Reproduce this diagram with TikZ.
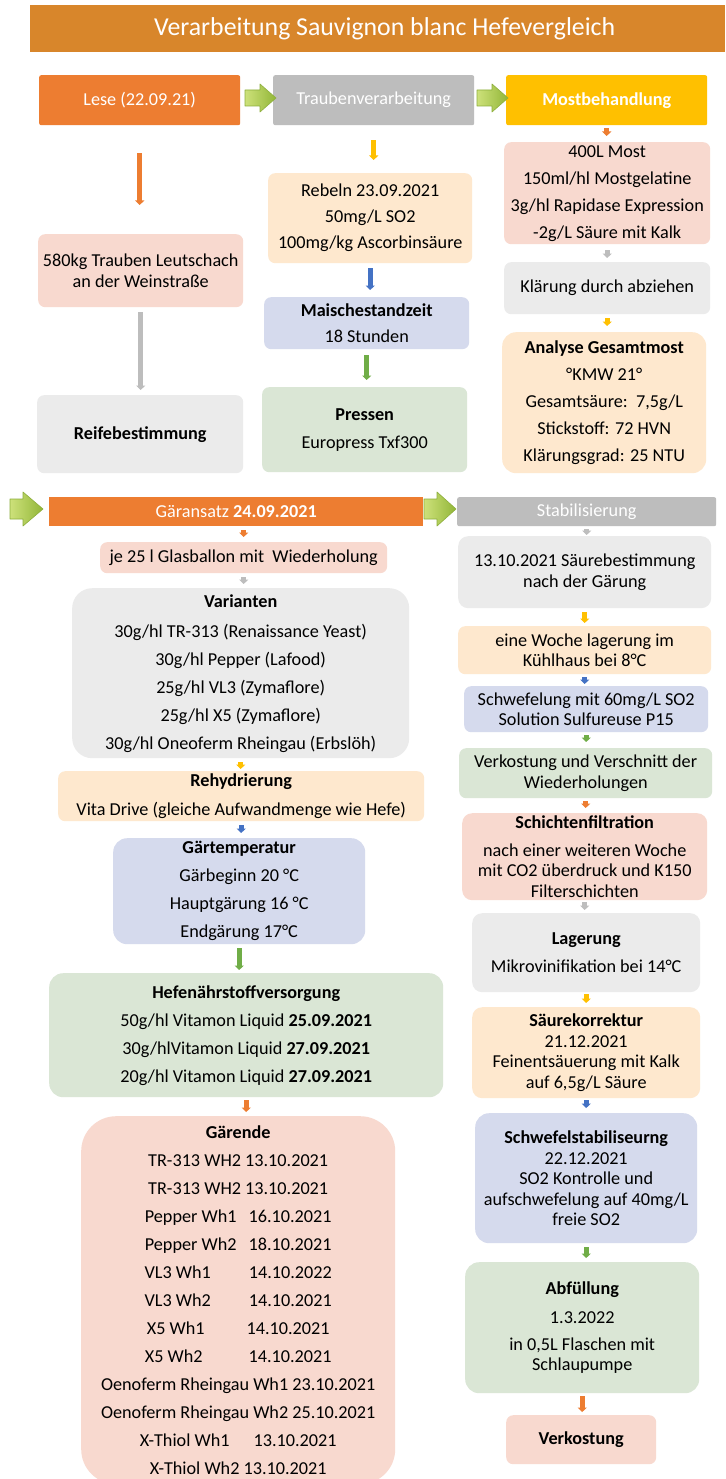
\documentclass[tikz,border=0pt]{standalone}
\usepackage{fontspec}
\setmainfont{Carlito}
\usetikzlibrary{arrows.meta}
\definecolor{titlec}{HTML}{D8862B}
\definecolor{hdorange}{HTML}{ED7D31}
\definecolor{hdgray}{HTML}{BDBDBD}
\definecolor{hdyellow}{HTML}{FFC000}
\definecolor{cpink}{HTML}{F8D9CF}
\definecolor{cgray}{HTML}{EBEBEB}
\definecolor{corange}{HTML}{FEE8CE}
\definecolor{cblue}{HTML}{D5DAED}
\definecolor{cgreen}{HTML}{DAE6D5}
\definecolor{aorange}{HTML}{ED7D31}
\definecolor{agray}{HTML}{BDBDBD}
\definecolor{ayellow}{HTML}{FFC000}
\definecolor{ablue}{HTML}{4472C4}
\definecolor{agreen}{HTML}{70AD47}
\definecolor{chevL}{HTML}{CDE17A}
\definecolor{chevR}{HTML}{92B638}
\definecolor{chevD}{HTML}{8DAF3C}
\newcommand\conn[5]{\draw[sa,#1,shorten <=#4pt,shorten >=#5pt] (#2.south) -- (#2.south |- #3.north);}
\newcommand\chev[6]{\shade[left color=chevL,right color=chevR,draw=chevD,line width=0.6pt,line join=round]
  (#1,#2-#5) -- (#1+#6,#2-#5) -- (#1+#6,#2-#4) -- (#1+#3,#2) -- (#1+#6,#2+#4) -- (#1+#6,#2+#5) -- (#1,#2+#5) -- cycle;}
\begin{document}
\begin{tikzpicture}[x=1pt,y=-1pt,
  box/.style={anchor=north west, inner sep=0pt, align=center, rounded corners=7pt, text=black,
    font=\fontsize{18.2}{20.5}\selectfont},
  hdr/.style={box, text=white, rounded corners=2pt},
  wide/.style={font=\fontsize{18.2}{#1}\selectfont},
  sa/.style={line width=5pt, -{Triangle[width=9pt,length=4.5pt]}}]
\clip (0,0) rectangle (725,1479);
\fill[white] (0,0) rectangle (725,1479);
% title
\node[anchor=north west, fill=titlec, minimum width=695pt, minimum height=47pt, inner sep=0pt, text=white,
  font=\fontsize{25.8}{30}\selectfont] (title) at (30,5) {\hspace*{14pt}Verarbeitung Sauvignon blanc Hefevergleich};
% row 1 headers
\node[hdr, fill=hdorange, minimum width=201pt, minimum height=50pt] (lese) at (39,75) {Lese (22.09.21)};
\node[hdr, fill=hdgray, minimum width=201pt, minimum height=50pt] (trauben) at (273,75) {Traubenverarbeitung};
\node[hdr, fill=hdyellow, minimum width=201pt, minimum height=50pt] (mosth) at (506,75) {\textbf{Mostbehandlung}};
% column 1
\node[box, fill=cpink, minimum width=205pt, minimum height=73pt] (menge) at (38,234) {580kg Trauben Leutschach\\an der Weinstraße};
\node[box, fill=cgray, minimum width=206pt, minimum height=78pt] (reife) at (37,395) {\textbf{Reifebestimmung}};
% column 2
\node[box, wide=26, fill=corange, minimum width=204pt, minimum height=90pt] (rebeln) at (268,173) {Rebeln 23.09.2021\\50mg/L SO2\\100mg/kg Ascorbinsäure};
\node[box, wide=26, fill=cblue, minimum width=205pt, minimum height=52pt] (maische) at (264,297) {\textbf{Maischestandzeit}\\18 Stunden};
\node[box, wide=28, fill=cgreen, minimum width=205pt, minimum height=85pt] (pressen) at (262,387) {\textbf{Pressen}\\Europress Txf300};
% column 3
\node[box, wide=27, fill=cpink, minimum width=206pt, minimum height=102pt] (most) at (504,142) {400L Most\\150ml/hl Mostgelatine\\3g/hl Rapidase Expression\\-2g/L Säure mit Kalk};
\node[box, fill=cgray, minimum width=206pt, minimum height=52pt] (klaer) at (504,262) {Klärung durch abziehen};
\node[box, wide=27, fill=corange, minimum width=204pt, minimum height=141pt, rounded corners=14pt] (analyse) at (502,332) {\textbf{Analyse Gesamtmost}\\°KMW 21°\\Gesamtsäure:\ \ 7,5g/L\\Stickstoff: 72 HVN\\Klärungsgrad: 25 NTU};
% row 2 headers
\node[hdr, fill=hdorange, rounded corners=0pt, minimum width=374pt, minimum height=29pt] (gar) at (49,497) {Gäransatz \textbf{24.09.2021}};
\node[hdr, fill=hdgray, minimum width=259pt, minimum height=29pt] (stab) at (457,497) {Stabilisierung};
% left lower column
\node[box, fill=cpink, minimum width=287pt, minimum height=31pt] (je) at (100,542) {je 25 l Glasballon mit\ \ Wiederholung};
\node[box, wide=28, fill=cgray, minimum width=337pt, minimum height=170pt, rounded corners=20pt] (var) at (72,588) {\textbf{Varianten}\\[2pt]30g/hl TR-313 (Renaissance Yeast)\\30g/hl Pepper (Lafood)\\25g/hl VL3 (Zymaflore)\\25g/hl X5 (Zymaflore)\\30g/hl Oneoferm Rheingau (Erbslöh)};
\node[box, wide=29, fill=corange, minimum width=366pt, minimum height=50pt] (rehyd) at (58,771) {\textbf{Rehydrierung}\\Vita Drive (gleiche Aufwandmenge wie Hefe)};
\node[box, wide=28, fill=cblue, minimum width=252pt, minimum height=106pt, rounded corners=14pt] (gtemp) at (113,838) {\textbf{Gärtemperatur}\\Gärbeginn 20 °C\\Hauptgärung 16 °C\\Endgärung 17°C};
\node[box, wide=28, fill=cgreen, minimum width=394pt, minimum height=124pt, rounded corners=14pt] (hefe) at (49,973) {\textbf{Hefenährstoffversorgung}\\50g/hl Vitamon Liquid \textbf{25.09.2021}\\30g/hlVitamon Liquid \textbf{27.09.2021}\\20g/hl Vitamon Liquid \textbf{27.09.2021}};
\node[box, wide=28, fill=cpink, minimum width=314pt, minimum height=368pt, rounded corners=35pt] (gend) at (81,1116) {\textbf{Gärende}\\
TR-313 WH2 13.10.2021\\
TR-313 WH2 13.10.2021\\
Pepper Wh1\hspace{12pt}16.10.2021\\
Pepper Wh2\hspace{12pt}18.10.2021\\
VL3 Wh1\hspace{38pt}14.10.2022\\
VL3 Wh2\hspace{38pt}14.10.2021\\
X5 Wh1\hspace{42pt}14.10.2021\\
X5 Wh2\hspace{46pt}14.10.2021\\
Oenoferm Rheingau Wh1 23.10.2021\\
Oenoferm Rheingau Wh2 25.10.2021\\
X-Thiol Wh1\hspace{24pt}13.10.2021\\
X-Thiol Wh2 13.10.2021};
% right lower column
\node[box, fill=cgray, minimum width=253pt, minimum height=72pt, rounded corners=10pt] (s1) at (458,536) {13.10.2021 Säurebestimmung\\nach der Gärung};
\node[box, fill=corange, minimum width=253pt, minimum height=48pt] (s2) at (458,626) {eine Woche lagerung im\\Kühlhaus bei 8°C};
\node[box, fill=cblue, minimum width=244pt, minimum height=46pt] (s3) at (464,686) {Schwefelung mit 60mg/L SO2\\Solution Sulfureuse P15};
\node[box, fill=cgreen, minimum width=253pt, minimum height=50pt] (s4) at (459,748) {Verkostung und Verschnitt der\\Wiederholungen};
\node[box, fill=cpink, minimum width=245pt, minimum height=87pt, rounded corners=10pt] (s5) at (462,813) {\textbf{Schichtenfiltration}\\[7pt]nach einer weiteren Woche\\mit CO2 überdruck und K150\\Filterschichten};
\node[box, fill=cgray, minimum width=228pt, minimum height=79pt, rounded corners=10pt] (s6) at (472,913) {\textbf{Lagerung}\\[7pt]Mikrovinifikation bei 14°C};
\node[box, fill=corange, minimum width=228pt, minimum height=91pt, rounded corners=10pt] (s7) at (472,1007) {\textbf{Säurekorrektur}\\21.12.2021\\Feinentsäuerung mit Kalk\\auf 6,5g/L Säure};
\node[box, fill=cblue, minimum width=222pt, minimum height=130pt, rounded corners=14pt] (s8) at (475,1113) {\textbf{Schwefelstabiliseurng}\\22.12.2021\\SO2 Kontrolle und\\aufschwefelung auf 40mg/L\\freie SO2};
\node[box, fill=cgreen, minimum width=234pt, minimum height=131pt, rounded corners=14pt] (s9) at (465,1262) {\textbf{Abfüllung}\\[9pt]1.3.2022\\[6pt]in 0,5L Flaschen mit\\Schlaupumpe};
\node[box, fill=cpink, minimum width=150pt, minimum height=49pt] (s10) at (506,1415) {\textbf{Verkostung}};
% chevrons
\chev{245}{98}{31}{14}{8}{15}
\chev{477}{98}{31}{14}{8}{15}
\chev{10}{509}{33}{17}{10}{13}
\chev{424}{509}{32}{17}{10}{13}
% connectors
\conn{aorange}{lese}{menge}{28}{29}
\conn{agray}{menge}{reife}{5}{5}
\conn{ayellow}{trauben}{rebeln}{15}{13}
\conn{ablue}{rebeln}{maische}{5}{7}
\conn{agreen}{maische}{pressen}{6}{7}
\conn{aorange}{mosth}{most}{3}{6}
\conn{agray}{most}{klaer}{6}{4}
\conn{ayellow}{klaer}{analyse}{4}{6}
\draw[sa,aorange,shorten <=4pt,shorten >=5pt] (je.north |- gar.south) -- (je.north);
\conn{agray}{je}{var}{4}{4}
\conn{ayellow}{var}{rehyd}{4}{2}
\conn{ablue}{rehyd}{gtemp}{4}{5}
\conn{agreen}{gtemp}{hefe}{4}{3}
\conn{aorange}{hefe}{gend}{3}{4}
\conn{agray}{stab}{s1}{3}{1}
\conn{ayellow}{s1}{s2}{4}{3}
\conn{ablue}{s2}{s3}{3}{2}
\conn{agreen}{s3}{s4}{3}{6}
\conn{aorange}{s4}{s5}{3}{5}
\conn{agray}{s5}{s6}{2}{3}
\conn{ayellow}{s6}{s7}{2}{4}
\conn{ablue}{s7}{s8}{2}{5}
\conn{agreen}{s8}{s9}{4}{4}
\conn{aorange}{s9}{s10}{3}{3}
\end{tikzpicture}
\end{document}
